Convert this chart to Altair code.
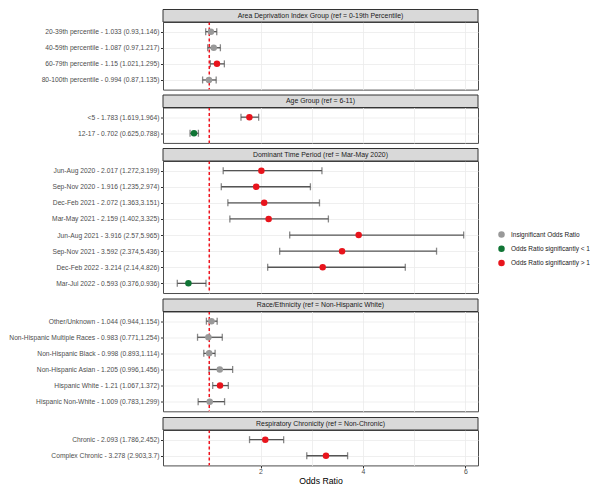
import altair as alt
import pandas as pd

FONT = "Liberation Sans"

group_titles = [
    "Area Deprivation Index Group (ref = 0-19th Percentile)",
    "Age Group (ref = 6-11)",
    "Dominant Time Period (ref = Mar-May 2020)",
    "Race/Ethnicity (ref = Non-Hispanic White)",
    "Respiratory Chronicity (ref = Non-Chronic)",
]

adi_names = ["20-39th percentile", "40-59th percentile", "60-79th percentile", "80-100th percentile"]
adi_or = [1.033, 1.087, 1.15, 0.994]
adi_lo = [0.93, 0.97, 1.021, 0.87]
adi_hi = [1.146, 1.217, 1.295, 1.135]

age_names = ["<5", "12-17"]
age_or = [1.783, 0.702]
age_lo = [1.619, 0.625]
age_hi = [1.964, 0.788]

time_names = ["Jun-Aug 2020", "Sep-Nov 2020", "Dec-Feb 2021", "Mar-May 2021",
              "Jun-Aug 2021", "Sep-Nov 2021", "Dec-Feb 2022", "Mar-Jul 2022"]
time_or = [2.017, 1.916, 2.072, 2.159, 3.916, 3.592, 3.214, 0.593]
time_lo = [1.272, 1.235, 1.363, 1.402, 2.57, 2.374, 2.14, 0.376]
time_hi = [3.199, 2.974, 3.151, 3.325, 5.965, 5.436, 4.826, 0.936]

race_names = ["Other/Unknown", "Non-Hispanic Multiple Races", "Non-Hispanic Black",
              "Non-Hispanic Asian", "Hispanic White", "Hispanic Non-White"]
race_or = [1.044, 0.983, 0.998, 1.205, 1.21, 1.009]
race_lo = [0.944, 0.771, 0.893, 0.996, 1.067, 0.783]
race_hi = [1.154, 1.254, 1.114, 1.456, 1.372, 1.299]

resp_names = ["Chronic", "Complex Chronic"]
resp_or = [2.093, 3.278]
resp_lo = [1.786, 2.903]
resp_hi = [2.452, 3.7]

groups = [
    (adi_names, adi_or, adi_lo, adi_hi),
    (age_names, age_or, age_lo, age_hi),
    (time_names, time_or, time_lo, time_hi),
    (race_names, race_or, race_lo, race_hi),
    (resp_names, resp_or, resp_lo, resp_hi),
]

sig_cats = ["Insignificant Odds Ratio", "Odds Ratio significantly < 1", "Odds Ratio significantly > 1"]
sig_colors = ["#999999", "#107535", "#E8141C"]
ref_value = [1.0]
x_grid = [1, 2, 3, 4, 5, 6]
x_domain = [0.097, 6.245]

W = 315
STEP = 16.1
HEAD = 12.5
SPACING = 2.5
LABEL_FS = 6.7

ref_df = pd.DataFrame({"ref": ref_value})
xscale = alt.Scale(domain=x_domain, nice=False, zero=False)

legend = alt.Legend(
    title=None, orient="none", legendX=335, legendY=209,
    symbolType="circle", symbolSize=42, symbolOpacity=1, symbolStrokeWidth=0,
    labelFontSize=6.5, labelColor="#1A1A1A", labelFont=FONT,
    rowPadding=7.2, labelOffset=6, padding=0,
)


def classify(lo, hi):
    if lo > 1:
        return sig_cats[2]
    if hi < 1:
        return sig_cats[1]
    return sig_cats[0]


def panel(title, names, ors, los, his, last):
    labels = [f"{n} - {o} ({l},{h})" for n, o, l, h in zip(names, ors, los, his)]
    df = pd.DataFrame({
        "label": labels, "or": ors, "lo": los, "hi": his,
        "sig": [classify(l, h) for l, h in zip(los, his)],
    })
    if last:
        x_axis = alt.Axis(
            values=x_grid, title="Odds Ratio", labelExpr="datum.value % 2 == 0 ? datum.label : ''",
            tickOpacity={"condition": {"test": "datum.value % 2 == 1", "value": 0}, "value": 1},
            grid=True, gridColor="#EBEBEB", gridWidth=0.8, domain=False,
            tickColor="#333333", tickSize=2.5, labelPadding=1, labelFontSize=6.9,
            labelColor="#4D4D4D", labelFont=FONT, titleFont=FONT, titleFontSize=8.7,
            titleFontWeight="normal", titleColor="#000000", titlePadding=1.5,
        )
    else:
        x_axis = alt.Axis(
            values=x_grid, title=None, labels=False, ticks=False, domain=False,
            grid=True, gridColor="#EBEBEB", gridWidth=0.8,
        )
    y_axis = alt.Axis(
        title=None, domain=False, grid=True, gridColor="#EBEBEB", gridWidth=0.8,
        tickColor="#333333", tickSize=2.5, labelPadding=1.5, labelFontSize=LABEL_FS,
        labelColor="#4D4D4D", labelFont=FONT, labelLimit=400,
    )
    yenc = alt.Y("label:N", sort=labels, scale=alt.Scale(type="point", padding=0.6), axis=y_axis)
    base = alt.Chart(df)
    bar = base.mark_rule(color="#555555", strokeWidth=1.3).encode(
        x=alt.X("lo:Q", scale=xscale, axis=x_axis), x2="hi:Q", y=yenc
    )
    cap_lo = base.mark_tick(color="#555555", thickness=1.3, size=7, orient="vertical").encode(
        x=alt.X("lo:Q", scale=xscale, axis=x_axis), y=yenc
    )
    cap_hi = base.mark_tick(color="#555555", thickness=1.3, size=7, orient="vertical").encode(
        x=alt.X("hi:Q", scale=xscale, axis=x_axis), y=yenc
    )
    vline = alt.Chart(ref_df).mark_rule(color="#F0141E", strokeDash=[3, 2.5], strokeWidth=1.5).encode(
        x=alt.X("ref:Q", scale=xscale, axis=x_axis)
    )
    pts = base.mark_circle(size=42, opacity=1).encode(
        x=alt.X("or:Q", scale=xscale, axis=x_axis), y=yenc,
        color=alt.Color("sig:N", scale=alt.Scale(domain=sig_cats, range=sig_colors), legend=legend),
    )
    hd = alt.Chart(pd.DataFrame({"title": [title]}))
    strip = hd.mark_rect(fill="#D9D9D9", stroke="#333333", strokeWidth=1).encode(
        x=alt.value(0), x2=alt.value(W), y=alt.value(-HEAD), y2=alt.value(0)
    )
    strip_txt = hd.mark_text(fontSize=6.9, color="#1A1A1A", font=FONT, baseline="middle", align="center").encode(
        x=alt.value(W / 2), y=alt.value(-HEAD / 2), text="title:N"
    )
    h = (len(labels) + 0.2) * STEP
    return alt.layer(bar, cap_lo, cap_hi, vline, pts, strip, strip_txt).properties(
        width=W, height=h, view=alt.ViewBackground(stroke="#4D4D4D", strokeWidth=1)
    )


parts = [
    panel(title, *g, last=(i == len(groups) - 1))
    for i, (title, g) in enumerate(zip(group_titles, groups))
]

chart = alt.vconcat(*parts, spacing=SPACING).resolve_scale(
    x="independent", y="independent", color="shared"
).properties(padding=0).configure_view(fill="white")

chart.save("out.html", embed_options={"renderer": "svg", "actions": False})
